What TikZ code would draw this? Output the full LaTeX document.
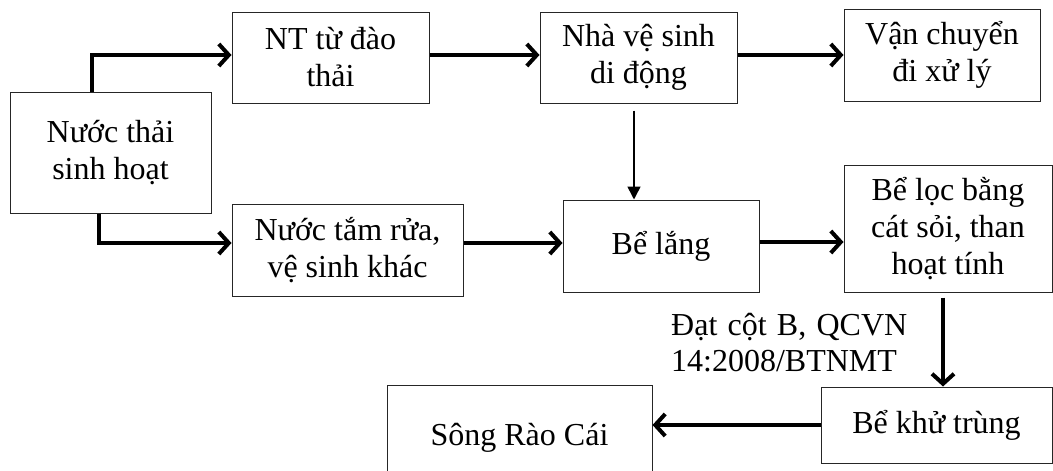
\documentclass[tikz,border=0pt]{standalone}
\usepackage{fontspec}
\setmainfont{Liberation Serif}
\usetikzlibrary{arrows.meta,calc}
\begin{document}
\begin{tikzpicture}[x=1pt,y=-1pt,
  box/.style={draw=black!85,line width=1pt,align=center,inner sep=0pt,
    font=\fontsize{32}{37}\selectfont},
  thick arrow/.style={line width=4pt,-{Straight Barb[length=10pt,width=22pt]}},
  thin arrow/.style={line width=1.6pt,-{Triangle[length=13pt,width=13pt]}}]
\useasboundingbox (0,0) rectangle (1053,471);
\node[box,minimum width=201pt,minimum height=121pt] (A) at (110.5,153) {Nước thải\\sinh hoạt};
\node[box,minimum width=197pt,minimum height=91pt] (B) at (330.5,57.5) {NT từ đào\\thải};
\node[box,minimum width=197pt,minimum height=91pt] (C) at (638.5,57.5) {Nhà vệ sinh\\di động};
\node[box,minimum width=196pt,minimum height=92pt] (D) at (942,55) {Vận chuyển\\đi xử lý};
\node[box,minimum width=231pt,minimum height=92pt] (E) at (347.5,250) {Nước tắm rửa,\\vệ sinh khác};
\node[box,minimum width=196pt,minimum height=92pt] (F) at (661,246) {Bể lắng};
\node[box,minimum width=208pt,minimum height=127pt] (G) at (948,228.5) {Bể lọc bằng\\cát sỏi, than\\hoạt tính};
\node[box,minimum width=231pt,minimum height=76pt] (H) at (936.5,425) {Bể khử trùng};
\node[box,minimum width=265pt,minimum height=105pt] (I) at (519.5,437.5) {Sông Rào Cái};
\node[anchor=north west,inner sep=0pt,align=left,font=\fontsize{32}{36}\selectfont] (L) at (671,313)
  {Đạt\hspace{0.32em}cột\hspace{0.32em}B,\hspace{0.32em}QCVN\\14:2008/BTNMT};
\draw[thick arrow] ([xshift=-18.5pt]A.north) |- ([yshift=2.5pt]B.west);
\draw[thick arrow] ([xshift=-11.5pt]A.south) |- ([yshift=7pt]E.west);
\draw[thick arrow] ([yshift=2.5pt]B.east) -- ([yshift=2.5pt]C.west);
\draw[thick arrow] ([yshift=2.5pt]C.east) -- ([yshift=2.5pt]C.east -| D.west);
\draw[thin arrow] ([xshift=-4.5pt,yshift=-7pt]C.south) -- ([xshift=-4.5pt]C.south |- F.north);
\draw[thick arrow] ([yshift=7pt]E.east) -- ([yshift=7pt]E.east -| F.west);
\draw[thick arrow] ([yshift=4pt]F.east) -- ([yshift=4pt]F.east -| G.west);
\draw[thick arrow] ([xshift=-5pt,yshift=-5pt]G.south) -- ([xshift=-5pt]G.south |- H.north);
\draw[thick arrow] (H.west) -- (H.west -| I.east);
\end{tikzpicture}
\end{document}
